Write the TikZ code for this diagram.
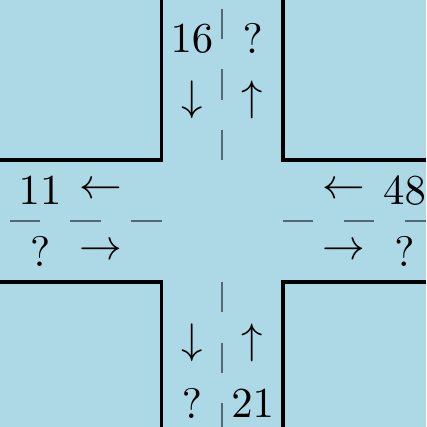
\documentclass[tikz,border=0pt]{standalone}
\usepackage{amsmath,amssymb}
\usepackage{tikz}
\usetikzlibrary{positioning}
\usepackage{xcolor}
\definecolor{roadbg}{RGB}{173,216,230}
\definecolor{lanegray}{RGB}{84,106,114}

\tikzset{
  curb/.style={line width=0.9pt, black},
  lane/.style={lanegray, line width=0.45pt, dash pattern=on 0.25cm off 0.25cm},
  count/.style={inner sep=0pt}
}

\begin{document}
\begin{tikzpicture}
  \fill[roadbg] (-1.83,-1.695) rectangle (1.68,1.82);
  \useasboundingbox (-1.83,-1.695) rectangle (1.68,1.82);
  % curbs
  \draw[curb] (-1.83,0.5) -- (-0.5,0.5) -- (-0.5,1.82);
  \draw[curb] (1.68,0.5) -- (0.5,0.5) -- (0.5,1.82);
  \draw[curb] (-1.83,-0.5) -- (-0.5,-0.5) -- (-0.5,-1.695);
  \draw[curb] (1.68,-0.5) -- (0.5,-0.5) -- (0.5,-1.695);
  % lane markings
  \draw[lane] (-0.5,0) -- (-1.83,0);
  \draw[lane] (0.5,0) -- (1.68,0);
  \draw[lane] (0,0.5) -- (0,1.82);
  \draw[lane] (0,-0.5) -- (0,-1.695);
  % north
  \node[count] (nin) at (-0.25,1.5) {$16$};
  \node[count] (nout) at (0.25,1.5) {$?$};
  \node[count] (nindir) at (-0.25,1) {$\downarrow$};
  \node[count] (noutdir) at (0.25,1) {$\uparrow$};
  % west
  \node[count] (win) at (-1.5,0.25) {$11$};
  \node[count] (wout) at (-1.5,-0.25) {$?$};
  \node[count] (windir) at (-1,0.25) {$\leftarrow$};
  \node[count] (woutdir) at (-1,-0.25) {$\rightarrow$};
  % east
  \node[count] (ein) at (1.5,0.25) {$48$};
  \node[count] (eout) at (1.5,-0.25) {$?$};
  \node[count] (eindir) at (1,0.25) {$\leftarrow$};
  \node[count] (eoutdir) at (1,-0.25) {$\rightarrow$};
  % south
  \node[count] (sout) at (-0.25,-1.5) {$?$};
  \node[count] (sin) at (0.25,-1.5) {$21$};
  \node[count] (soutdir) at (-0.25,-1) {$\downarrow$};
  \node[count] (sindir) at (0.25,-1) {$\uparrow$};
\end{tikzpicture}
\end{document}
